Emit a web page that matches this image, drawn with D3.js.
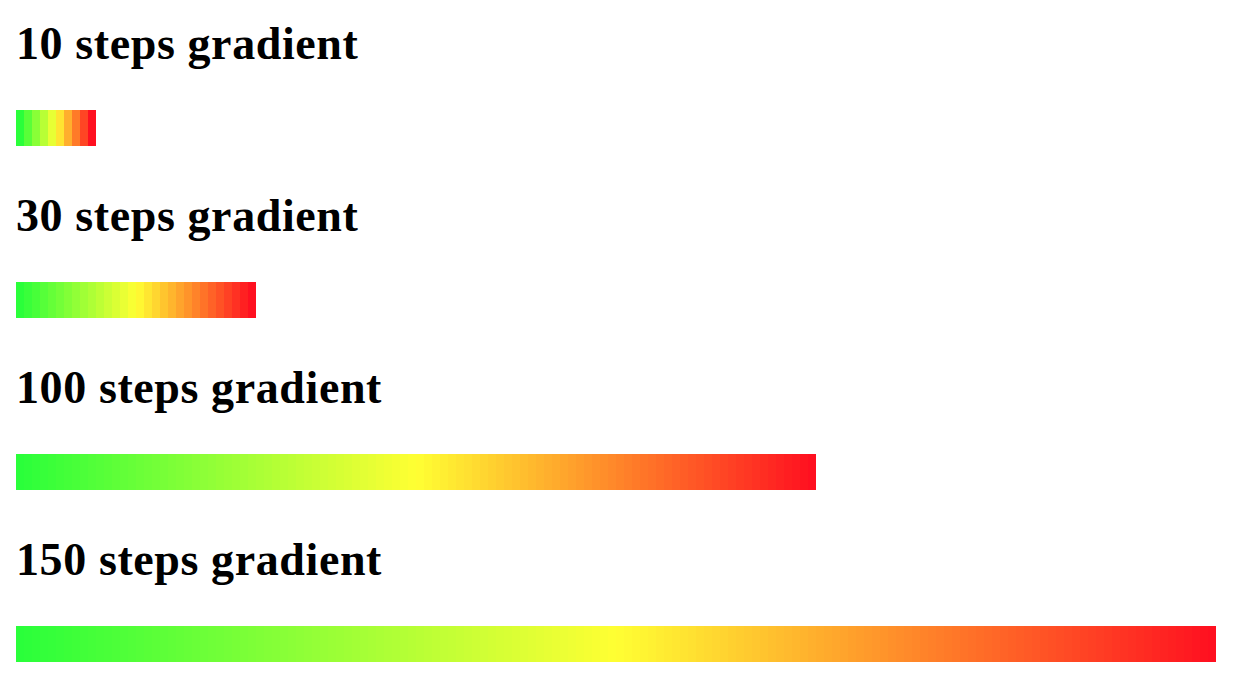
<!DOCTYPE html>
<html>
<head>
<meta charset="utf-8">
<script src="https://d3js.org/d3.v7.min.js"></script>
<style>
  body { margin: 0; background: #fff; }
  h2 { font-family: "Liberation Serif", "Times New Roman", serif; font-weight: bold; font-size: 46px; letter-spacing: 0.6px; margin: 22px 16px 0 16px; height: 44px; line-height: 44px; }
  svg { display: block; margin: 44px 0 0 16px; }
</style>
</head>
<body>
<div id="container"></div>
<script>
// step counts for each gradient
const stepCounts = [10, 30, 100, 150];
const gradientStops = [0, 0.5, 1];
const gradientColors = ["#2aff3a", "#ffff33", "#ff1020"];

const cellWidth = 8, cellHeight = 36;

const color = d3.scaleLinear()
    .domain(gradientStops)
    .range(gradientColors)
    .interpolate(d3.interpolateRgb);

const container = d3.select('#container');

stepCounts.forEach((n, k) => {
    container.append('h2')
        .style('margin-top', k === 0 ? '22px' : '48px')
        .text(`${n} steps gradient`);

    const x = d3.scaleBand().domain(d3.range(n)).range([0, n * cellWidth]);

    const svg = container.append('svg')
        .attr('width', n * cellWidth)
        .attr('height', cellHeight);

    svg.selectAll('rect')
        .data(d3.range(n))
        .enter().append('rect')
        .attr('x', d => x(d))
        .attr('y', 0)
        .attr('width', x.bandwidth() + 0.5)
        .attr('height', cellHeight)
        .attr('fill', d => color(n === 1 ? 0 : d / (n - 1)));
});
</script>
</body>
</html>
